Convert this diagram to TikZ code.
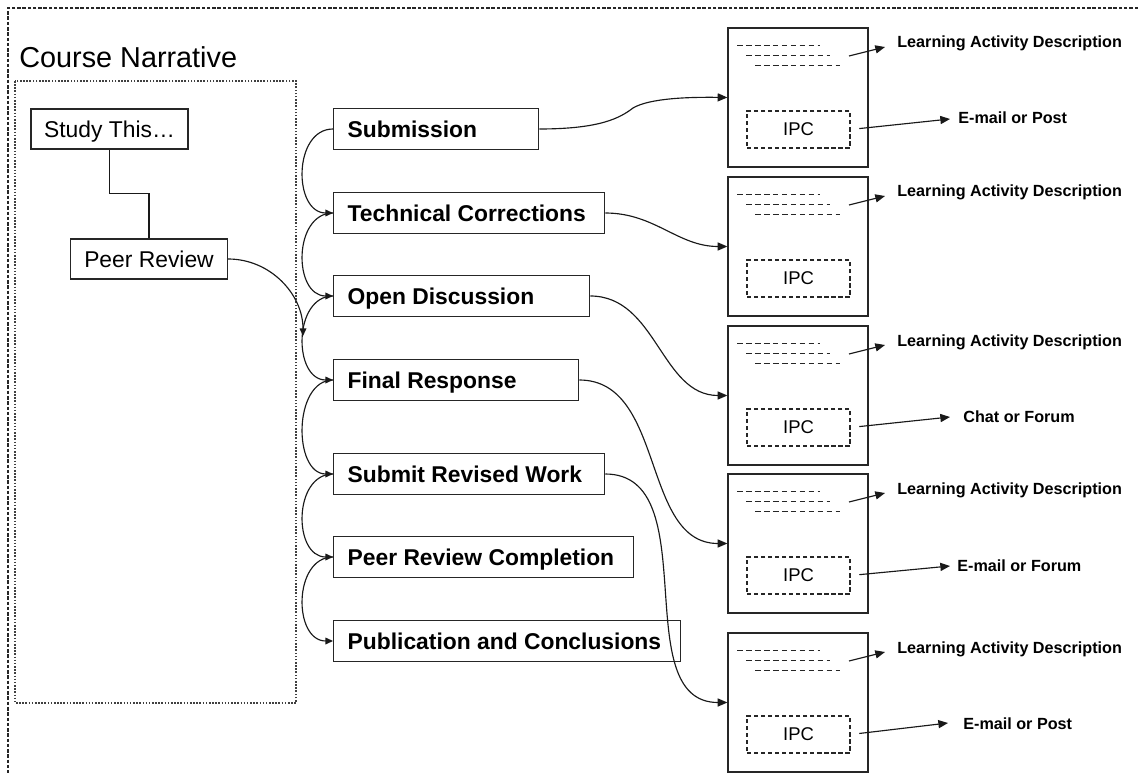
\documentclass[tikz,border=0pt]{standalone}
\usepackage{fontspec}
\setmainfont{Liberation Sans}
\usetikzlibrary{arrows.meta,calc}
\tikzset{
 lbox/.style={draw=black!85, line width=0.8pt, minimum width=3.14cm, minimum height=0.8cm, inner sep=0pt, text height=12pt, text depth=2.8pt, font=\fontsize{13}{15}\selectfont},
 stepbox/.style={draw=black!85, line width=0.8pt, minimum height=0.82cm, inner xsep=7.94pt, inner ysep=0pt, anchor=west, text height=12pt, text depth=2.8pt, font=\bfseries\fontsize{13}{15}\selectfont},
 rbox/.style={draw=black!85, line width=0.75pt, minimum width=2.8cm, minimum height=2.78cm, inner sep=0pt},
 ipcbox/.style={draw=black!85, dash pattern=on 2.4pt off 1.6pt, line width=0.6pt, minimum width=2.06cm, minimum height=0.74cm, inner sep=0pt, font=\fontsize{10.5}{12}\selectfont},
 txtline/.style={draw=black!85, dash pattern=on 3.2pt off 1.9pt, line width=0.55pt},
 lab/.style={inner sep=0pt, anchor=base west, font=\bfseries\fontsize{9.2}{11}\selectfont},
 conn/.style={draw=black!90, line width=0.65pt},
 arr/.style={conn, -{Triangle[length=5.5pt,width=4.6pt]}},
 sarr/.style={conn, -{Triangle[length=4.3pt,width=3.8pt]}},
}
\begin{document}
\begin{tikzpicture}[x=0.02cm,y=-0.02cm]
\useasboundingbox (0,0) rectangle (1138,773);
\fill[white] (0,0) rectangle (1138,773);
% outer frame
\draw[black!85, line width=0.6pt, dash pattern=on 2pt off 1pt] (1138,8) -- (8,8) -- (8,773);
% course narrative
\node[inner sep=0pt, anchor=base west, font=\fontsize{16.4}{19}\selectfont] (title) at (19,68) {Course Narrative};
\draw[black!75, line width=0.9pt, dash pattern=on 0.9pt off 0.9pt] (15,81) rectangle (296,703);
\node[lbox] (st) at (109.5,129) {Study This…};
\node[lbox] (pr) at (149,259) {Peer Review};
\draw[conn] (st.south) -- ++(0,44) -| (pr.north);
% steps
\node[stepbox] (s1) at (333,129) {\makebox[3.54cm][l]{Submission}};
\node[stepbox] (s2) at (333,213) {\makebox[4.86cm][l]{Technical Corrections}};
\node[stepbox] (s3) at (333,296) {\makebox[4.56cm][l]{Open Discussion}};
\node[stepbox] (s4) at (333,380) {\makebox[4.34cm][l]{Final Response}};
\node[stepbox] (s5) at (333,474) {\makebox[4.86cm][l]{Submit Revised Work}};
\node[stepbox] (s6) at (333,557) {\makebox[5.44cm][l]{Peer Review Completion}};
\node[stepbox] (s7) at (333,641) {\makebox[6.38cm][l]{Publication and Conclusions}};
\foreach \a/\b in {s1/s2,s2/s3,s3/s4,s4/s5,s5/s6,s6/s7}
  \draw[sarr] (\a.west) .. controls +(-40,0) and +(-40,0) .. (\b.west);
\coordinate (j) at (303,336);
\draw[sarr] (pr.east) to[out=0,in=90] (j);
% right boxes
\foreach \i/\T in {1/28,2/177,3/326,4/474,5/633} {
  \node[rbox] (r\i) at (798,\T+69.5) {};
  \draw[txtline] (737,\T+17) -- (820,\T+17);
  \draw[txtline] (746,\T+27) -- (830,\T+27);
  \draw[txtline] (755,\T+37) -- (840,\T+37);
  \node[ipcbox] (ipc\i) at (798.5,\T+101.5) {IPC};
  \coordinate (ls\i) at (849,\T+28);
  \node[lab] (lad\i) at (897,\T+20) {Learning Activity Description};
  \draw[arr] (ls\i) -- ($(lad\i.base west)+(-12,-1)$);
}
\draw[arr] (s1.east) .. controls (600,129) and (620,118) .. (633,108) .. controls (650,98) and (690,97) .. (r1.west);
\foreach \a/\b in {s2/r2,s3/r3,s4/r4,s5/r5}
  \draw[arr] (\a.east) to[out=0,in=180] (\b.west);
% IPC targets
\node[lab] (m1) at (958,124) {E-mail or Post};
\node[lab] (m3) at (963,422) {Chat or Forum};
\node[lab] (m4) at (957,571) {E-mail or Forum};
\node[lab] (m5) at (963,729) {E-mail or Post};
\draw[arr, shorten <=5pt] (ipc1.east) -- ($(m1.base west)+(-8,-5)$);
\draw[arr, shorten <=5pt] (ipc3.east) -- ($(m3.base west)+(-13,-5)$);
\draw[arr, shorten <=5pt] (ipc4.east) -- ($(m4.base west)+(-7,-5)$);
\draw[arr, shorten <=5pt] (ipc5.east) -- ($(m5.base west)+(-15,-6)$);
\end{tikzpicture}
\end{document}
